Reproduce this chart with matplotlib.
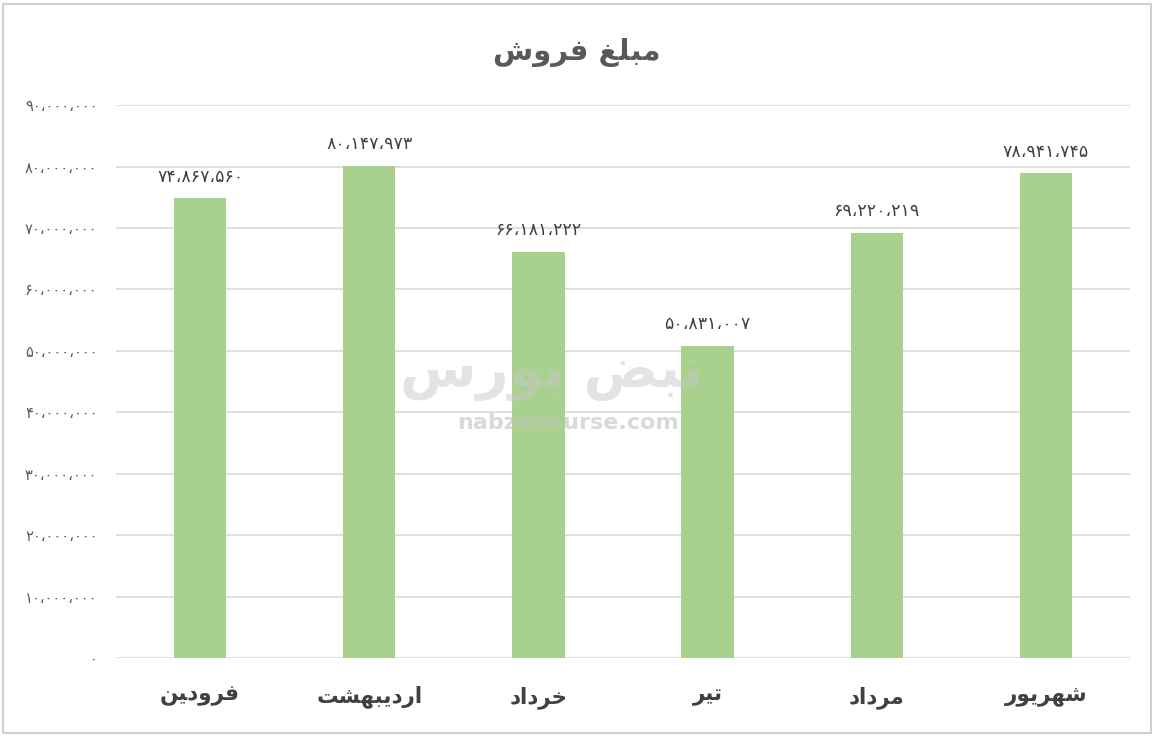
import matplotlib
matplotlib.use("Agg")
import matplotlib.pyplot as plt
from matplotlib.ticker import FuncFormatter, MultipleLocator
from matplotlib.patches import Rectangle

# month names, already shaped (presentation forms) and in visual order
months = [
    "\uFEE6\uFEF4\uFEA9\uFEED\uFEAE\uFED3",              # farvardin (as in chart)
    "\uFE96\uFEB8\uFEEC\uFE92\uFEF3\uFEA9\uFEAD\uFE8D",  # ordibehesht
    "\uFEA9\uFE8D\uFEA9\uFEAE\uFEA7",                    # khordad
    "\uFEAE\uFEF4\uFE97",                                # tir
    "\uFEA9\uFE8D\uFEA9\uFEAE\uFEE3",                    # mordad
    "\uFEAD\uFEEE\uFEF3\uFEAE\uFEEC\uFEB7",              # shahrivar
]
sales = [74867560, 80147973, 66181222, 50831007, 69220219, 78941745]
title = "\uFEB5\uFEED\uFEAE\uFED3 \uFECE\uFEE0\uFE92\uFEE3"
wm_fa = "\uFEB1\uFEAD\uFEEE\uFE91 \uFEBE\uFE92\uFEE7"
wm_en = "nabzebourse.com"

FA = str.maketrans("0123456789", "\u06F0\u06F1\u06F2\u06F3\u06F4\u06F5\u06F6\u06F7\u06F8\u06F9")


def fa_num(v, pos=None):
    s = "{:,}".format(int(round(v)))
    return s.translate(FA).replace(",", "\u060C")


plt.rcParams['font.family'] = ['DejaVu Sans']

fig = plt.figure(figsize=(11.54, 7.36), dpi=100)
ax = fig.add_axes([0.1001, 0.106, 0.8795, 0.751])

x = range(len(months))
bars = ax.bar(x, sales, width=0.31, color="#a9d18e", zorder=3)

ax.set_xlim(-0.5, len(months) - 0.5)
ax.set_ylim(0, 90000000)
ax.yaxis.set_major_locator(MultipleLocator(10000000))
ax.yaxis.set_major_formatter(FuncFormatter(fa_num))
ax.grid(axis="y", color="#d9d9d9", linewidth=1.2, zorder=0)
for s in ax.spines.values():
    s.set_visible(False)
ax.tick_params(axis="y", length=0, pad=13, labelsize=10.5, labelcolor="#595959")
ax.tick_params(axis="x", length=0, pad=20)
ax.set_xticks(list(x))
ax.set_xticklabels(months, fontsize=15.5, fontweight="bold", color="#404040")

for xi, v in zip(x, sales):
    ax.annotate(fa_num(v), (xi, v), xytext=(0, 9), textcoords="offset points",
                ha="center", va="bottom", fontsize=12.5, color="#404040")

fig.text(0.500, 0.928, title, ha="center", va="center", fontsize=21,
         fontweight="bold", color="#595959")

# watermark
fig.text(0.478, 0.492, wm_fa, ha="center", va="center", fontsize=40,
         fontweight="bold", color="#c8c8c8", alpha=0.5, zorder=10)
fig.text(0.492, 0.425, wm_en, ha="center", va="center", fontsize=16,
         fontweight="bold", color="#c0c0c0", alpha=0.6, zorder=10)

fig.patches.append(Rectangle((0.003, 0.004), 0.994, 0.99, transform=fig.transFigure,
                             fill=False, edgecolor="#d0d0d0", linewidth=1.5))

fig.savefig("out.png", dpi=100)
